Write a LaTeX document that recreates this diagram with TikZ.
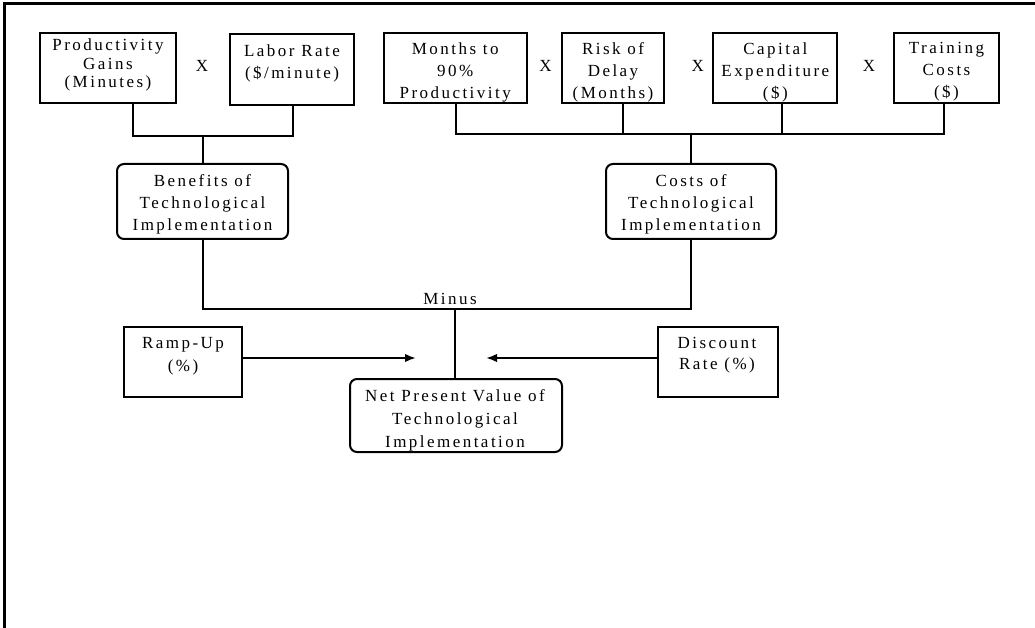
\documentclass[tikz,border=0pt]{standalone}
\usepackage{fontspec}
\setmainfont{Liberation Serif}[LetterSpace=14.5]
\usetikzlibrary{arrows.meta,calc}
\begin{document}
\begin{tikzpicture}[x=1pt,y=-1pt,
  box/.style={draw,line width=2pt,inner sep=0pt},
  rbox/.style={box,rounded corners=7pt},
  lbl/.style={align=center,inner sep=0pt,font=\fontsize{17}{22}\selectfont},
  conn/.style={line width=2pt},
  arr/.style={conn,-{Latex[length=11pt,width=8.5pt]}}]
\useasboundingbox (0,0) rectangle (1035,628);
\draw[line width=3pt] (4.3,628) -- (4.3,3.5) -- (1035,3.5);

% top-left boxes
\node[box,minimum width=136pt,minimum height=70pt] (prod) at (108,68) {};
\node[lbl,font=\fontsize{17}{18.5}\selectfont] (prodT) at (108,65) {Productivity\\Gains\\(Minutes)};
\node[box,minimum width=124pt,minimum height=71pt] (labor) at (292,69.5) {};
\node[lbl] (laborT) at (292,63.5) {Labor Rate\\(\$/minute)};
\node[lbl] (x1) at (202,65.5) {X};

% top-right boxes
\node[box,minimum width=143pt,minimum height=70pt] (months) at (455.2,68) {};
\node[lbl] (monthsT) at (455.2,72) {Months to\\90\%\\Productivity};
\node[box,minimum width=102pt,minimum height=70pt] (risk) at (613,68) {};
\node[lbl] (riskT) at (613,72) {Risk of\\Delay\\(Months)};
\node[box,minimum width=124pt,minimum height=70pt] (capital) at (775.3,68) {};
\node[lbl] (capitalT) at (775.3,72) {Capital\\Expenditure\\(\$)};
\node[box,minimum width=105pt,minimum height=70pt] (training) at (946.5,68) {};
\node[lbl] (trainingT) at (946.5,72) {Training\\Costs\\(\$)};
\node[lbl] (x2) at (545.5,65.5) {X};
\node[lbl] (x3) at (697.8,65.5) {X};
\node[lbl] (x4) at (869.1,65.5) {X};

% middle rounded boxes
\node[rbox,minimum width=171pt,minimum height=75pt] (benefits) at (202.5,201.5) {};
\node[lbl] (benefitsT) at (202.5,204.5) {Benefits of\\Technological\\Implementation};
\node[rbox,minimum width=170pt,minimum height=75pt] (costs) at (691,201.5) {};
\node[lbl] (costsT) at (691,204.5) {Costs of\\Technological\\Implementation};

% bottom
\node[box,minimum width=118pt,minimum height=70pt] (ramp) at (183,362) {};
\node[lbl,font=\fontsize{17}{23}\selectfont] (rampT) at (183,356) {Ramp-Up\\(\%)};
\node[box,minimum width=120pt,minimum height=70pt] (discount) at (718,362) {};
\node[lbl,font=\fontsize{17}{21}\selectfont] (discountT) at (717,355) {Discount\\Rate (\%)};
\node[rbox,minimum width=212pt,minimum height=73pt] (npv) at (456,415.5) {};
\node[lbl,font=\fontsize{17}{23}\selectfont] (npvT) at (455,420.5) {Net Present Value of\\Technological\\Implementation};
\node[lbl,anchor=base] (minus) at (450,304.3) {Minus};

% coordinates for connectors
\coordinate (vp) at (133,0);
\coordinate (vl) at (293,0);
\coordinate (jl) at (203,136);
\coordinate (vm) at (456,0);
\coordinate (vr) at (623,0);
\coordinate (vc) at (782,0);
\coordinate (vt) at (944,0);
\coordinate (jr) at (691,134);
\coordinate (jm) at (455,309);
\coordinate (tipL) at (416,358);
\coordinate (tipR) at (486,358);

\draw[conn] (prod.south -| vp) |- (jl) -| (labor.south -| vl);
\draw[conn] (jl) -- (jl |- benefits.north);
\draw[conn] (months.south -| vm) |- (jr) -| (training.south -| vt);
\draw[conn] (risk.south -| vr) -- (vr |- jr);
\draw[conn] (capital.south -| vc) -- (vc |- jr);
\draw[conn] (jr) -- (jr |- costs.north);
\draw[conn] (benefits.south) |- (jm) -| (costs.south);
\draw[conn] (jm) -- (jm |- npv.north);
\draw[arr] (ramp.east |- tipL) -- (tipL);
\draw[arr] (discount.west |- tipR) -- (tipR);
\end{tikzpicture}
\end{document}
